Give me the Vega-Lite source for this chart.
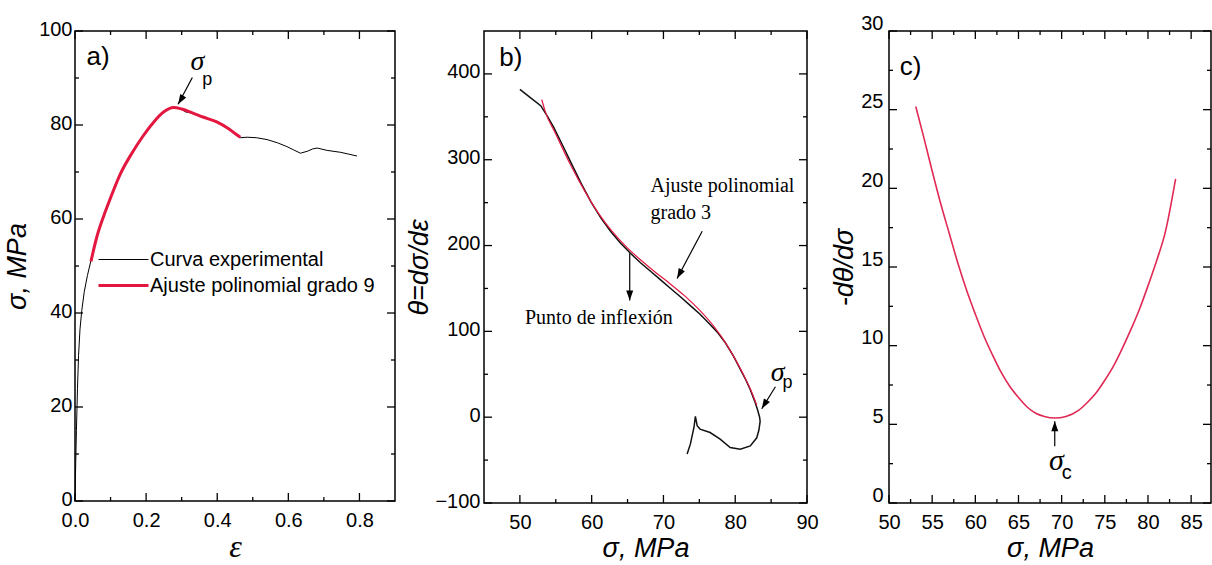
{
  "$schema": "https://vega.github.io/schema/vega-lite/v6.json",
  "padding": {"left": 2, "top": 12, "right": 0, "bottom": 0},
  "autosize": {"type": "pad"},
  "background": "white",
  "config": {
    "font": "Liberation Sans",
    "view": {"stroke": "#000", "strokeWidth": 1.5},
    "axis": {"domain": false, "grid": false, "ticks": false, "labelFont": "Liberation Sans", "labelFontSize": 20, "labelColor": "#000", "titleFont": "Liberation Sans", "titleFontSize": 27, "titleFontStyle": "italic", "titleFontWeight": "normal", "titleColor": "#000", "labelFlush": false, "labelOverlap": false},
    "text": {"color": "#000"},
    "rule": {"color": "#000", "strokeWidth": 1.3}
  },
  "bounds": "flush",
  "spacing": 89,
  "hconcat": [
    {
      "width": 320, "height": 470,
      "layer": [
        {
          "data": {"values": [
            {"x": 0, "y": 0, "s": "Curva experimental"}, {"x": 0.002, "y": 8, "s": "Curva experimental"}, {"x": 0.004, "y": 15, "s": "Curva experimental"}, {"x": 0.007, "y": 24, "s": "Curva experimental"}, {"x": 0.01, "y": 31, "s": "Curva experimental"}, {"x": 0.014, "y": 36.5, "s": "Curva experimental"}, {"x": 0.019, "y": 40.5, "s": "Curva experimental"}, {"x": 0.026, "y": 44.5, "s": "Curva experimental"}, {"x": 0.035, "y": 48, "s": "Curva experimental"}, {"x": 0.045, "y": 51.2, "s": "Curva experimental"}, {"x": 0.066, "y": 57.4, "s": "Curva experimental"}, {"x": 0.089, "y": 62, "s": "Curva experimental"}, {"x": 0.11, "y": 66.5, "s": "Curva experimental"}, {"x": 0.127, "y": 69.7, "s": "Curva experimental"}, {"x": 0.16, "y": 74, "s": "Curva experimental"}, {"x": 0.192, "y": 77.6, "s": "Curva experimental"}, {"x": 0.215, "y": 80, "s": "Curva experimental"}, {"x": 0.239, "y": 82.3, "s": "Curva experimental"}, {"x": 0.26, "y": 83.3, "s": "Curva experimental"}, {"x": 0.277, "y": 83.8, "s": "Curva experimental"}, {"x": 0.295, "y": 83.6, "s": "Curva experimental"}, {"x": 0.31, "y": 82.8, "s": "Curva experimental"}, {"x": 0.33, "y": 82.5, "s": "Curva experimental"}, {"x": 0.36, "y": 81.7, "s": "Curva experimental"}, {"x": 0.399, "y": 80.8, "s": "Curva experimental"}, {"x": 0.427, "y": 79.4, "s": "Curva experimental"}, {"x": 0.45, "y": 78.2, "s": "Curva experimental"}, {"x": 0.465, "y": 77.3, "s": "Curva experimental"}, {"x": 0.484, "y": 77.4, "s": "Curva experimental"}, {"x": 0.51, "y": 77.3, "s": "Curva experimental"}, {"x": 0.54, "y": 76.9, "s": "Curva experimental"}, {"x": 0.57, "y": 76.2, "s": "Curva experimental"}, {"x": 0.596, "y": 75.4, "s": "Curva experimental"}, {"x": 0.615, "y": 74.7, "s": "Curva experimental"}, {"x": 0.634, "y": 74.0, "s": "Curva experimental"}, {"x": 0.653, "y": 74.4, "s": "Curva experimental"}, {"x": 0.668, "y": 74.9, "s": "Curva experimental"}, {"x": 0.681, "y": 75.1, "s": "Curva experimental"}, {"x": 0.709, "y": 74.6, "s": "Curva experimental"}, {"x": 0.746, "y": 74.2, "s": "Curva experimental"}, {"x": 0.77, "y": 73.8, "s": "Curva experimental"}, {"x": 0.793, "y": 73.4, "s": "Curva experimental"}
          ]},
          "mark": {"type": "line", "interpolate": "linear"},
          "encoding": {
            "x": {"field": "x", "type": "quantitative", "scale": {"domain": [0, 0.9], "nice": false, "zero": false}, "axis": {"orient": "bottom", "values": [0, 0.2, 0.4, 0.6, 0.8], "format": ".1f", "ticks": false, "offset": -8, "labelPadding": 17, "title": "ε", "titleFont": "Liberation Serif", "titleFontSize": 32, "titleY": 53, "titleBaseline": "middle"}},
            "y": {"field": "y", "type": "quantitative", "scale": {"domain": [0, 100], "nice": false, "zero": false}, "axis": {"orient": "left", "values": [0, 20, 40, 60, 80, 100], "ticks": false, "offset": -8, "labelPadding": 11, "labelOffset": -2, "title": "σ, MPa", "titleX": -66, "titleBaseline": "middle"}},
            "color": {"field": "s", "type": "nominal", "scale": {"domain": ["Curva experimental", "Ajuste polinomial grado 9"], "range": ["#000000", "#e3173f"]}, "legend": {"orient": "none", "legendX": 22, "legendY": 218, "title": null, "labelFont": "Liberation Sans", "labelFontSize": 20, "labelColor": "#000", "labelLimit": 0, "symbolType": "M-1,0L4,0", "symbolSize": 400, "labelOffset": 30, "rowPadding": 4}},
            "strokeWidth": {"field": "s", "type": "nominal", "scale": {"domain": ["Curva experimental", "Ajuste polinomial grado 9"], "range": [1, 3]}, "legend": {"orient": "none", "legendX": 22, "legendY": 218, "title": null, "labelFont": "Liberation Sans", "labelFontSize": 20, "labelColor": "#000", "labelLimit": 0, "symbolType": "M-1,0L4,0", "symbolSize": 400, "labelOffset": 30, "rowPadding": 4}}
          }
        },
        {
          "data": {"values": [
            {"x": 0.045, "y": 51, "s": "Ajuste polinomial grado 9"}, {"x": 0.06, "y": 55.8, "s": "Ajuste polinomial grado 9"}, {"x": 0.08, "y": 60.5, "s": "Ajuste polinomial grado 9"}, {"x": 0.1, "y": 64.5, "s": "Ajuste polinomial grado 9"}, {"x": 0.127, "y": 69.5, "s": "Ajuste polinomial grado 9"}, {"x": 0.16, "y": 74, "s": "Ajuste polinomial grado 9"}, {"x": 0.19, "y": 77.5, "s": "Ajuste polinomial grado 9"}, {"x": 0.22, "y": 80.5, "s": "Ajuste polinomial grado 9"}, {"x": 0.25, "y": 82.8, "s": "Ajuste polinomial grado 9"}, {"x": 0.277, "y": 83.7, "s": "Ajuste polinomial grado 9"}, {"x": 0.3, "y": 83.4, "s": "Ajuste polinomial grado 9"}, {"x": 0.33, "y": 82.6, "s": "Ajuste polinomial grado 9"}, {"x": 0.36, "y": 81.7, "s": "Ajuste polinomial grado 9"}, {"x": 0.4, "y": 80.6, "s": "Ajuste polinomial grado 9"}, {"x": 0.43, "y": 79.3, "s": "Ajuste polinomial grado 9"}, {"x": 0.45, "y": 78.2, "s": "Ajuste polinomial grado 9"}, {"x": 0.465, "y": 77.4, "s": "Ajuste polinomial grado 9"}
          ]},
          "mark": {"type": "line", "interpolate": "monotone"},
          "encoding": {
            "x": {"field": "x", "type": "quantitative", "scale": {"domain": [0, 0.9], "nice": false, "zero": false}},
            "y": {"field": "y", "type": "quantitative", "scale": {"domain": [0, 100], "nice": false, "zero": false}},
            "color": {"field": "s", "type": "nominal", "scale": {"domain": ["Curva experimental", "Ajuste polinomial grado 9"], "range": ["#000000", "#e3173f"]}, "legend": {"orient": "none", "legendX": 22, "legendY": 218, "title": null, "labelFont": "Liberation Sans", "labelFontSize": 20, "labelColor": "#000", "labelLimit": 0, "symbolType": "M-1,0L4,0", "symbolSize": 400, "labelOffset": 30, "rowPadding": 4}},
            "strokeWidth": {"field": "s", "type": "nominal", "scale": {"domain": ["Curva experimental", "Ajuste polinomial grado 9"], "range": [1, 3]}, "legend": {"orient": "none", "legendX": 22, "legendY": 218, "title": null, "labelFont": "Liberation Sans", "labelFontSize": 20, "labelColor": "#000", "labelLimit": 0, "symbolType": "M-1,0L4,0", "symbolSize": 400, "labelOffset": 30, "rowPadding": 4}}
          }
        },
        {
          "data": {"values": [{"v": 0}, {"v": 0.2}, {"v": 0.4}, {"v": 0.6}, {"v": 0.8}]},
          "layer": [
            {"mark": {"type": "rule", "y2Offset": -8}, "encoding": {"x": {"field": "v", "type": "quantitative", "scale": {"domain": [0, 0.9], "nice": false, "zero": false}}, "y": {"datum": 0, "type": "quantitative", "scale": {"domain": [0, 100], "nice": false, "zero": false}}, "y2": {"datum": 0}}},
            {"mark": {"type": "rule", "y2Offset": 8}, "encoding": {"x": {"field": "v", "type": "quantitative", "scale": {"domain": [0, 0.9], "nice": false, "zero": false}}, "y": {"datum": 100, "type": "quantitative", "scale": {"domain": [0, 100], "nice": false, "zero": false}}, "y2": {"datum": 100}}}
          ]
        },
        {
          "data": {"values": [{"v": 0.1}, {"v": 0.3}, {"v": 0.5}, {"v": 0.7}]},
          "layer": [
            {"mark": {"type": "rule", "y2Offset": -4}, "encoding": {"x": {"field": "v", "type": "quantitative", "scale": {"domain": [0, 0.9], "nice": false, "zero": false}}, "y": {"datum": 0, "type": "quantitative", "scale": {"domain": [0, 100], "nice": false, "zero": false}}, "y2": {"datum": 0}}},
            {"mark": {"type": "rule", "y2Offset": 4}, "encoding": {"x": {"field": "v", "type": "quantitative", "scale": {"domain": [0, 0.9], "nice": false, "zero": false}}, "y": {"datum": 100, "type": "quantitative", "scale": {"domain": [0, 100], "nice": false, "zero": false}}, "y2": {"datum": 100}}}
          ]
        },
        {
          "data": {"values": [{"v": 0}, {"v": 20}, {"v": 40}, {"v": 60}, {"v": 80}, {"v": 100}]},
          "layer": [
            {"mark": {"type": "rule", "x2Offset": 8}, "encoding": {"y": {"field": "v", "type": "quantitative", "scale": {"domain": [0, 100], "nice": false, "zero": false}}, "x": {"datum": 0, "type": "quantitative", "scale": {"domain": [0, 0.9], "nice": false, "zero": false}}, "x2": {"datum": 0}}},
            {"mark": {"type": "rule", "x2Offset": -8}, "encoding": {"y": {"field": "v", "type": "quantitative", "scale": {"domain": [0, 100], "nice": false, "zero": false}}, "x": {"datum": 0.9, "type": "quantitative", "scale": {"domain": [0, 0.9], "nice": false, "zero": false}}, "x2": {"datum": 0.9}}}
          ]
        },
        {
          "data": {"values": [{"v": 10}, {"v": 30}, {"v": 50}, {"v": 70}, {"v": 90}]},
          "layer": [
            {"mark": {"type": "rule", "x2Offset": 4}, "encoding": {"y": {"field": "v", "type": "quantitative", "scale": {"domain": [0, 100], "nice": false, "zero": false}}, "x": {"datum": 0, "type": "quantitative", "scale": {"domain": [0, 0.9], "nice": false, "zero": false}}, "x2": {"datum": 0}}},
            {"mark": {"type": "rule", "x2Offset": -4}, "encoding": {"y": {"field": "v", "type": "quantitative", "scale": {"domain": [0, 100], "nice": false, "zero": false}}, "x": {"datum": 0.9, "type": "quantitative", "scale": {"domain": [0, 0.9], "nice": false, "zero": false}}, "x2": {"datum": 0.9}}}
          ]
        },
        {
          "data": {"values": [{"x": 0.065, "y": 94.4, "t": "a)"}]},
          "mark": {"type": "text", "font": "Liberation Sans", "fontSize": 26, "align": "center", "baseline": "middle"},
          "encoding": {
            "x": {"field": "x", "type": "quantitative", "scale": {"domain": [0, 0.9], "nice": false, "zero": false}},
            "y": {"field": "y", "type": "quantitative", "scale": {"domain": [0, 100], "nice": false, "zero": false}},
            "text": {"field": "t"}
          }
        },
        {
          "data": {"values": [{"x": 0.33, "y": 90.1, "x2": 0.29, "y2": 84.4}]},
          "mark": {"type": "rule", "strokeWidth": 1.2},
          "encoding": {
            "x": {"field": "x", "type": "quantitative", "scale": {"domain": [0, 0.9], "nice": false, "zero": false}},
            "y": {"field": "y", "type": "quantitative", "scale": {"domain": [0, 100], "nice": false, "zero": false}},
            "x2": {"field": "x2"}, "y2": {"field": "y2"}
          }
        },
        {
          "data": {"values": [{"x": 0.29, "y": 84.4}]},
          "mark": {"type": "point", "shape": "M0,0L0.35,1L-0.35,1Z", "size": 400, "filled": true, "color": "#000", "opacity": 1, "angle": 211},
          "encoding": {
            "x": {"field": "x", "type": "quantitative", "scale": {"domain": [0, 0.9], "nice": false, "zero": false}},
            "y": {"field": "y", "type": "quantitative", "scale": {"domain": [0, 100], "nice": false, "zero": false}}
          }
        },
        {
          "data": {"values": [{"x": 0.344, "y": 93.4, "t": "σ"}]},
          "mark": {"type": "text", "font": "Liberation Serif", "fontStyle": "italic", "fontSize": 28, "align": "center", "baseline": "middle"},
          "encoding": {
            "x": {"field": "x", "type": "quantitative", "scale": {"domain": [0, 0.9], "nice": false, "zero": false}},
            "y": {"field": "y", "type": "quantitative", "scale": {"domain": [0, 100], "nice": false, "zero": false}},
            "text": {"field": "t"}
          }
        },
        {
          "data": {"values": [{"x": 0.372, "y": 89.5, "t": "p"}]},
          "mark": {"type": "text", "font": "Liberation Sans", "fontSize": 18, "align": "center", "baseline": "middle"},
          "encoding": {
            "x": {"field": "x", "type": "quantitative", "scale": {"domain": [0, 0.9], "nice": false, "zero": false}},
            "y": {"field": "y", "type": "quantitative", "scale": {"domain": [0, 100], "nice": false, "zero": false}},
            "text": {"field": "t"}
          }
        }
      ]
    },
    {
      "bounds": "flush",
      "spacing": 82,
      "hconcat": [
        {
          "width": 323, "height": 472,
          "layer": [
            {
              "data": {"values": [
                {"i": 0, "x": 50, "y": 382}, {"i": 1, "x": 51.5, "y": 372}, {"i": 2, "x": 52.9, "y": 363}, {"i": 3, "x": 53.8, "y": 351}, {"i": 4, "x": 54.7, "y": 338}, {"i": 5, "x": 56, "y": 316}, {"i": 6, "x": 57.1, "y": 297}, {"i": 7, "x": 58.5, "y": 273}, {"i": 8, "x": 59.9, "y": 251}, {"i": 9, "x": 61.3, "y": 232}, {"i": 10, "x": 62.6, "y": 217}, {"i": 11, "x": 64, "y": 203}, {"i": 12, "x": 65.4, "y": 191}, {"i": 13, "x": 66.8, "y": 180}, {"i": 14, "x": 68.2, "y": 170}, {"i": 15, "x": 69.6, "y": 160}, {"i": 16, "x": 71, "y": 150}, {"i": 17, "x": 72.4, "y": 140}, {"i": 18, "x": 73.75, "y": 130}, {"i": 19, "x": 75.1, "y": 120}, {"i": 20, "x": 76.5, "y": 108}, {"i": 21, "x": 77.6, "y": 98}, {"i": 22, "x": 78.6, "y": 87}, {"i": 23, "x": 79.7, "y": 72}, {"i": 24, "x": 80.7, "y": 56}, {"i": 25, "x": 81.5, "y": 43}, {"i": 26, "x": 82.1, "y": 32}, {"i": 27, "x": 82.7, "y": 19}, {"i": 28, "x": 83.1, "y": 9}, {"i": 29, "x": 83.4, "y": 0}, {"i": 30, "x": 83.47, "y": -5}, {"i": 31, "x": 83.3, "y": -15}, {"i": 32, "x": 83.0, "y": -24}, {"i": 33, "x": 82.1, "y": -33.4}, {"i": 34, "x": 80.7, "y": -37.3}, {"i": 35, "x": 79.3, "y": -35.4}, {"i": 36, "x": 77.9, "y": -25.6}, {"i": 37, "x": 76.5, "y": -17.9}, {"i": 38, "x": 75.1, "y": -13.9}, {"i": 39, "x": 74.7, "y": -10}, {"i": 40, "x": 74.45, "y": 1}, {"i": 41, "x": 74.25, "y": -12}, {"i": 42, "x": 73.75, "y": -31.4}, {"i": 43, "x": 73.3, "y": -43}
              ]},
              "mark": {"type": "line", "interpolate": "linear", "color": "#111", "strokeWidth": 1.5},
              "encoding": {
                "x": {"field": "x", "type": "quantitative", "scale": {"domain": [45, 90], "nice": false, "zero": false}, "axis": {"orient": "bottom", "values": [50, 60, 70, 80, 90], "ticks": false, "offset": -8, "labelPadding": 17, "title": "σ, MPa", "titleY": 53, "titleBaseline": "middle"}},
                "y": {"field": "y", "type": "quantitative", "scale": {"domain": [-100, 450], "nice": false, "zero": false}, "axis": {"orient": "left", "values": [-100, 0, 100, 200, 300, 400], "ticks": false, "offset": -8, "labelPadding": 12, "labelOffset": -2, "title": "θ=dσ/dε", "titleX": -73, "titleBaseline": "middle"}},
                "order": {"field": "i", "type": "quantitative"}
              }
            },
            {
              "mark": {"type": "rule", "strokeWidth": 1.2},
              "encoding": {
                "y": {"datum": 0, "type": "quantitative", "scale": {"domain": [-100, 450], "nice": false, "zero": false}}
              }
            },
            {
              "data": {"values": [
                {"x": 53.05, "y": 370}, {"x": 53.5, "y": 357}, {"x": 55, "y": 330}, {"x": 57, "y": 295}, {"x": 59, "y": 264}, {"x": 61, "y": 237}, {"x": 63, "y": 215}, {"x": 65, "y": 197}, {"x": 67, "y": 182}, {"x": 69, "y": 168}, {"x": 71, "y": 155}, {"x": 73, "y": 141}, {"x": 75, "y": 125}, {"x": 77, "y": 106}, {"x": 79, "y": 82}, {"x": 81, "y": 52}, {"x": 82.5, "y": 25}, {"x": 83, "y": 14}
              ]},
              "mark": {"type": "line", "interpolate": "monotone", "color": "#e3173f", "strokeWidth": 1.2},
              "encoding": {
                "x": {"field": "x", "type": "quantitative", "scale": {"domain": [45, 90], "nice": false, "zero": false}},
                "y": {"field": "y", "type": "quantitative", "scale": {"domain": [-100, 450], "nice": false, "zero": false}}
              }
            },
            {
              "data": {"values": [{"v": 50}, {"v": 60}, {"v": 70}, {"v": 80}, {"v": 90}]},
              "layer": [
                {"mark": {"type": "rule", "y2Offset": -8}, "encoding": {"x": {"field": "v", "type": "quantitative", "scale": {"domain": [45, 90], "nice": false, "zero": false}}, "y": {"datum": -100, "type": "quantitative", "scale": {"domain": [-100, 450], "nice": false, "zero": false}}, "y2": {"datum": -100}}},
                {"mark": {"type": "rule", "y2Offset": 8}, "encoding": {"x": {"field": "v", "type": "quantitative", "scale": {"domain": [45, 90], "nice": false, "zero": false}}, "y": {"datum": 450, "type": "quantitative", "scale": {"domain": [-100, 450], "nice": false, "zero": false}}, "y2": {"datum": 450}}}
              ]
            },
            {
              "data": {"values": [{"v": 55}, {"v": 65}, {"v": 75}, {"v": 85}]},
              "layer": [
                {"mark": {"type": "rule", "y2Offset": -4}, "encoding": {"x": {"field": "v", "type": "quantitative", "scale": {"domain": [45, 90], "nice": false, "zero": false}}, "y": {"datum": -100, "type": "quantitative", "scale": {"domain": [-100, 450], "nice": false, "zero": false}}, "y2": {"datum": -100}}},
                {"mark": {"type": "rule", "y2Offset": 4}, "encoding": {"x": {"field": "v", "type": "quantitative", "scale": {"domain": [45, 90], "nice": false, "zero": false}}, "y": {"datum": 450, "type": "quantitative", "scale": {"domain": [-100, 450], "nice": false, "zero": false}}, "y2": {"datum": 450}}}
              ]
            },
            {
              "data": {"values": [{"v": -100}, {"v": 0}, {"v": 100}, {"v": 200}, {"v": 300}, {"v": 400}]},
              "layer": [
                {"mark": {"type": "rule", "x2Offset": 8}, "encoding": {"y": {"field": "v", "type": "quantitative", "scale": {"domain": [-100, 450], "nice": false, "zero": false}}, "x": {"datum": 45, "type": "quantitative", "scale": {"domain": [45, 90], "nice": false, "zero": false}}, "x2": {"datum": 45}}},
                {"mark": {"type": "rule", "x2Offset": -8}, "encoding": {"y": {"field": "v", "type": "quantitative", "scale": {"domain": [-100, 450], "nice": false, "zero": false}}, "x": {"datum": 90, "type": "quantitative", "scale": {"domain": [45, 90], "nice": false, "zero": false}}, "x2": {"datum": 90}}}
              ]
            },
            {
              "data": {"values": [{"v": -50}, {"v": 50}, {"v": 150}, {"v": 250}, {"v": 350}]},
              "layer": [
                {"mark": {"type": "rule", "x2Offset": 4}, "encoding": {"y": {"field": "v", "type": "quantitative", "scale": {"domain": [-100, 450], "nice": false, "zero": false}}, "x": {"datum": 45, "type": "quantitative", "scale": {"domain": [45, 90], "nice": false, "zero": false}}, "x2": {"datum": 45}}},
                {"mark": {"type": "rule", "x2Offset": -4}, "encoding": {"y": {"field": "v", "type": "quantitative", "scale": {"domain": [-100, 450], "nice": false, "zero": false}}, "x": {"datum": 90, "type": "quantitative", "scale": {"domain": [45, 90], "nice": false, "zero": false}}, "x2": {"datum": 90}}}
              ]
            },
            {
              "data": {"values": [{"x": 48.75, "y": 418.7, "t": "b)"}]},
              "mark": {"type": "text", "font": "Liberation Sans", "fontSize": 26, "align": "center", "baseline": "middle"},
              "encoding": {
                "x": {"field": "x", "type": "quantitative", "scale": {"domain": [45, 90], "nice": false, "zero": false}},
                "y": {"field": "y", "type": "quantitative", "scale": {"domain": [-100, 450], "nice": false, "zero": false}},
                "text": {"field": "t"}
              }
            },
            {
              "data": {"values": [{"x": 75.4, "y": 216.6, "x2": 71.9, "y2": 161.7}, {"x": 65.3, "y": 191, "x2": 65.3, "y2": 136}, {"x": 85.6, "y": 35.5, "x2": 83.7, "y2": 9.8}]},
              "mark": {"type": "rule", "strokeWidth": 1.2},
              "encoding": {
                "x": {"field": "x", "type": "quantitative", "scale": {"domain": [45, 90], "nice": false, "zero": false}},
                "y": {"field": "y", "type": "quantitative", "scale": {"domain": [-100, 450], "nice": false, "zero": false}},
                "x2": {"field": "x2"}, "y2": {"field": "y2"}
              }
            },
            {
              "data": {"values": [{"x": 71.9, "y": 161.7}]},
              "mark": {"type": "point", "shape": "M0,0L0.35,1L-0.35,1Z", "size": 400, "filled": true, "color": "#000", "opacity": 1, "angle": 208},
              "encoding": {
                "x": {"field": "x", "type": "quantitative", "scale": {"domain": [45, 90], "nice": false, "zero": false}},
                "y": {"field": "y", "type": "quantitative", "scale": {"domain": [-100, 450], "nice": false, "zero": false}}
              }
            },
            {
              "data": {"values": [{"x": 65.3, "y": 136}]},
              "mark": {"type": "point", "shape": "M0,0L0.35,1L-0.35,1Z", "size": 400, "filled": true, "color": "#000", "opacity": 1, "angle": 180},
              "encoding": {
                "x": {"field": "x", "type": "quantitative", "scale": {"domain": [45, 90], "nice": false, "zero": false}},
                "y": {"field": "y", "type": "quantitative", "scale": {"domain": [-100, 450], "nice": false, "zero": false}}
              }
            },
            {
              "data": {"values": [{"x": 83.7, "y": 9.8}]},
              "mark": {"type": "point", "shape": "M0,0L0.35,1L-0.35,1Z", "size": 400, "filled": true, "color": "#000", "opacity": 1, "angle": 211},
              "encoding": {
                "x": {"field": "x", "type": "quantitative", "scale": {"domain": [45, 90], "nice": false, "zero": false}},
                "y": {"field": "y", "type": "quantitative", "scale": {"domain": [-100, 450], "nice": false, "zero": false}}
              }
            },
            {
              "data": {"values": [{"x": 68.2, "y": 269, "t": "Ajuste polinomial"}, {"x": 68.2, "y": 237.6, "t": "grado 3"}]},
              "mark": {"type": "text", "font": "Liberation Serif", "fontSize": 20, "align": "left", "baseline": "middle"},
              "encoding": {
                "x": {"field": "x", "type": "quantitative", "scale": {"domain": [45, 90], "nice": false, "zero": false}},
                "y": {"field": "y", "type": "quantitative", "scale": {"domain": [-100, 450], "nice": false, "zero": false}},
                "text": {"field": "t"}
              }
            },
            {
              "data": {"values": [{"x": 61.0, "y": 115, "t": "Punto de inflexión"}]},
              "mark": {"type": "text", "font": "Liberation Serif", "fontSize": 20, "align": "center", "baseline": "middle"},
              "encoding": {
                "x": {"field": "x", "type": "quantitative", "scale": {"domain": [45, 90], "nice": false, "zero": false}},
                "y": {"field": "y", "type": "quantitative", "scale": {"domain": [-100, 450], "nice": false, "zero": false}},
                "text": {"field": "t"}
              }
            },
            {
              "data": {"values": [{"x": 85.9, "y": 52, "t": "σ"}]},
              "mark": {"type": "text", "font": "Liberation Serif", "fontStyle": "italic", "fontSize": 28, "align": "center", "baseline": "middle"},
              "encoding": {
                "x": {"field": "x", "type": "quantitative", "scale": {"domain": [45, 90], "nice": false, "zero": false}},
                "y": {"field": "y", "type": "quantitative", "scale": {"domain": [-100, 450], "nice": false, "zero": false}},
                "text": {"field": "t"}
              }
            },
            {
              "data": {"values": [{"x": 87.3, "y": 40, "t": "p"}]},
              "mark": {"type": "text", "font": "Liberation Sans", "fontSize": 18, "align": "center", "baseline": "middle"},
              "encoding": {
                "x": {"field": "x", "type": "quantitative", "scale": {"domain": [45, 90], "nice": false, "zero": false}},
                "y": {"field": "y", "type": "quantitative", "scale": {"domain": [-100, 450], "nice": false, "zero": false}},
                "text": {"field": "t"}
              }
            }
          ]
        },
        {
          "width": 322, "height": 472,
          "layer": [
            {
              "data": {"values": [
                {"x": 53.1, "y": 25.2}, {"x": 54, "y": 23.3}, {"x": 55, "y": 21.1}, {"x": 56, "y": 19.0}, {"x": 57, "y": 17.1}, {"x": 58, "y": 15.2}, {"x": 59, "y": 13.5}, {"x": 60, "y": 12.0}, {"x": 61, "y": 10.6}, {"x": 62, "y": 9.4}, {"x": 63, "y": 8.3}, {"x": 64, "y": 7.4}, {"x": 65, "y": 6.7}, {"x": 66, "y": 6.1}, {"x": 67, "y": 5.7}, {"x": 68, "y": 5.5}, {"x": 69.2, "y": 5.4}, {"x": 70.5, "y": 5.5}, {"x": 72, "y": 5.9}, {"x": 73, "y": 6.4}, {"x": 74, "y": 7.0}, {"x": 75, "y": 7.8}, {"x": 76, "y": 8.7}, {"x": 77, "y": 9.8}, {"x": 78, "y": 11.0}, {"x": 79, "y": 12.3}, {"x": 80, "y": 13.8}, {"x": 81, "y": 15.4}, {"x": 82, "y": 17.2}, {"x": 83.2, "y": 20.6}
              ]},
              "mark": {"type": "line", "interpolate": "monotone", "color": "#e02a55", "strokeWidth": 1.6},
              "encoding": {
                "x": {"field": "x", "type": "quantitative", "scale": {"domain": [50, 87.3], "nice": false, "zero": false}, "axis": {"orient": "bottom", "values": [50, 55, 60, 65, 70, 75, 80, 85], "ticks": false, "offset": -8, "labelPadding": 17, "title": "σ, MPa", "titleY": 53, "titleBaseline": "middle"}},
                "y": {"field": "y", "type": "quantitative", "scale": {"domain": [0, 30], "nice": false, "zero": false}, "axis": {"orient": "left", "values": [0, 5, 10, 15, 20, 25, 30], "ticks": false, "offset": -8, "labelPadding": 14, "labelOffset": -8, "title": "-dθ/dσ", "titleX": -53, "titleBaseline": "middle"}}
              }
            },
            {
              "data": {"values": [{"v": 50}, {"v": 55}, {"v": 60}, {"v": 65}, {"v": 70}, {"v": 75}, {"v": 80}, {"v": 85}]},
              "layer": [
                {"mark": {"type": "rule", "y2Offset": -8}, "encoding": {"x": {"field": "v", "type": "quantitative", "scale": {"domain": [50, 87.3], "nice": false, "zero": false}}, "y": {"datum": 0, "type": "quantitative", "scale": {"domain": [0, 30], "nice": false, "zero": false}}, "y2": {"datum": 0}}},
                {"mark": {"type": "rule", "y2Offset": 8}, "encoding": {"x": {"field": "v", "type": "quantitative", "scale": {"domain": [50, 87.3], "nice": false, "zero": false}}, "y": {"datum": 30, "type": "quantitative", "scale": {"domain": [0, 30], "nice": false, "zero": false}}, "y2": {"datum": 30}}}
              ]
            },
            {
              "data": {"values": [{"v": 52.5}, {"v": 57.5}, {"v": 62.5}, {"v": 67.5}, {"v": 72.5}, {"v": 77.5}, {"v": 82.5}]},
              "layer": [
                {"mark": {"type": "rule", "y2Offset": -4}, "encoding": {"x": {"field": "v", "type": "quantitative", "scale": {"domain": [50, 87.3], "nice": false, "zero": false}}, "y": {"datum": 0, "type": "quantitative", "scale": {"domain": [0, 30], "nice": false, "zero": false}}, "y2": {"datum": 0}}},
                {"mark": {"type": "rule", "y2Offset": 4}, "encoding": {"x": {"field": "v", "type": "quantitative", "scale": {"domain": [50, 87.3], "nice": false, "zero": false}}, "y": {"datum": 30, "type": "quantitative", "scale": {"domain": [0, 30], "nice": false, "zero": false}}, "y2": {"datum": 30}}}
              ]
            },
            {
              "data": {"values": [{"v": 0}, {"v": 5}, {"v": 10}, {"v": 15}, {"v": 20}, {"v": 25}, {"v": 30}]},
              "layer": [
                {"mark": {"type": "rule", "x2Offset": 8}, "encoding": {"y": {"field": "v", "type": "quantitative", "scale": {"domain": [0, 30], "nice": false, "zero": false}}, "x": {"datum": 50, "type": "quantitative", "scale": {"domain": [50, 87.3], "nice": false, "zero": false}}, "x2": {"datum": 50}}},
                {"mark": {"type": "rule", "x2Offset": -8}, "encoding": {"y": {"field": "v", "type": "quantitative", "scale": {"domain": [0, 30], "nice": false, "zero": false}}, "x": {"datum": 87.3, "type": "quantitative", "scale": {"domain": [50, 87.3], "nice": false, "zero": false}}, "x2": {"datum": 87.3}}}
              ]
            },
            {
              "data": {"values": [{"v": 2.5}, {"v": 7.5}, {"v": 12.5}, {"v": 17.5}, {"v": 22.5}, {"v": 27.5}]},
              "layer": [
                {"mark": {"type": "rule", "x2Offset": 4}, "encoding": {"y": {"field": "v", "type": "quantitative", "scale": {"domain": [0, 30], "nice": false, "zero": false}}, "x": {"datum": 50, "type": "quantitative", "scale": {"domain": [50, 87.3], "nice": false, "zero": false}}, "x2": {"datum": 50}}},
                {"mark": {"type": "rule", "x2Offset": -4}, "encoding": {"y": {"field": "v", "type": "quantitative", "scale": {"domain": [0, 30], "nice": false, "zero": false}}, "x": {"datum": 87.3, "type": "quantitative", "scale": {"domain": [50, 87.3], "nice": false, "zero": false}}, "x2": {"datum": 87.3}}}
              ]
            },
            {
              "data": {"values": [{"x": 52.5, "y": 27.7, "t": "c)"}]},
              "mark": {"type": "text", "font": "Liberation Sans", "fontSize": 26, "align": "center", "baseline": "middle"},
              "encoding": {
                "x": {"field": "x", "type": "quantitative", "scale": {"domain": [50, 87.3], "nice": false, "zero": false}},
                "y": {"field": "y", "type": "quantitative", "scale": {"domain": [0, 30], "nice": false, "zero": false}},
                "text": {"field": "t"}
              }
            },
            {
              "data": {"values": [{"x": 69.4, "y": 2.7, "t": "σ"}]},
              "mark": {"type": "text", "font": "Liberation Serif", "fontStyle": "italic", "fontSize": 30, "align": "center", "baseline": "middle"},
              "encoding": {
                "x": {"field": "x", "type": "quantitative", "scale": {"domain": [50, 87.3], "nice": false, "zero": false}},
                "y": {"field": "y", "type": "quantitative", "scale": {"domain": [0, 30], "nice": false, "zero": false}},
                "text": {"field": "t"}
              }
            },
            {
              "data": {"values": [{"x": 70.6, "y": 1.9, "t": "c"}]},
              "mark": {"type": "text", "font": "Liberation Sans", "fontSize": 20, "align": "center", "baseline": "middle"},
              "encoding": {
                "x": {"field": "x", "type": "quantitative", "scale": {"domain": [50, 87.3], "nice": false, "zero": false}},
                "y": {"field": "y", "type": "quantitative", "scale": {"domain": [0, 30], "nice": false, "zero": false}},
                "text": {"field": "t"}
              }
            },
            {
              "data": {"values": [{"x": 69.2, "y": 3.6, "x2": 69.2, "y2": 5.2}]},
              "mark": {"type": "rule", "strokeWidth": 1.2},
              "encoding": {
                "x": {"field": "x", "type": "quantitative", "scale": {"domain": [50, 87.3], "nice": false, "zero": false}},
                "y": {"field": "y", "type": "quantitative", "scale": {"domain": [0, 30], "nice": false, "zero": false}},
                "x2": {"field": "x2"}, "y2": {"field": "y2"}
              }
            },
            {
              "data": {"values": [{"x": 69.2, "y": 5.2}]},
              "mark": {"type": "point", "shape": "M0,0L0.35,1L-0.35,1Z", "size": 400, "filled": true, "color": "#000", "opacity": 1, "angle": 0},
              "encoding": {
                "x": {"field": "x", "type": "quantitative", "scale": {"domain": [50, 87.3], "nice": false, "zero": false}},
                "y": {"field": "y", "type": "quantitative", "scale": {"domain": [0, 30], "nice": false, "zero": false}}
              }
            }
          ]
        }
      ]
    }
  ]
}
